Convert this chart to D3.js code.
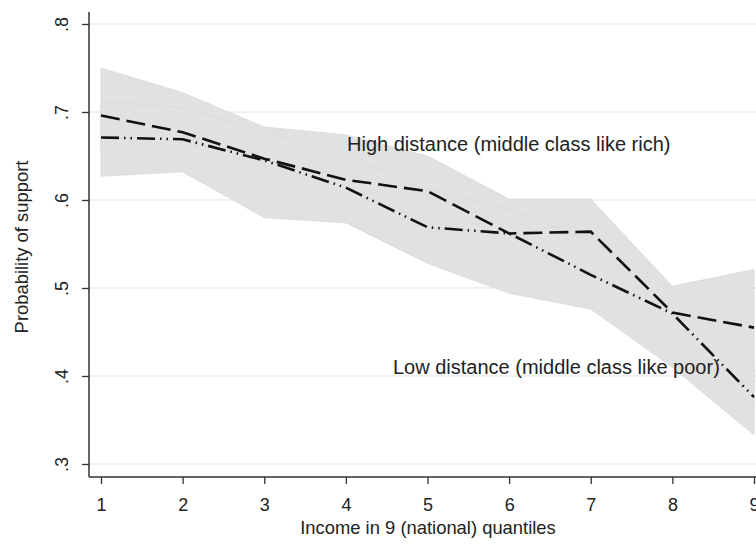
<!DOCTYPE html>
<html>
<head>
<meta charset="utf-8">
<script src="https://cdn.jsdelivr.net/npm/d3@7"></script>
<style>
  body { margin: 0; background: #fff; }
  svg { display: block; font-family: "Liberation Sans", Arial, sans-serif; }
</style>
</head>
<body>
<div id="chart"></div>
<script>
// income quantiles
var quantiles = [1, 2, 3, 4, 5, 6, 7, 8, 9];

// predicted probability of support
var highDistance = [0.696, 0.677, 0.647, 0.623, 0.610, 0.562, 0.564, 0.472, 0.455];
var lowDistance  = [0.671, 0.669, 0.645, 0.614, 0.569, 0.562, 0.515, 0.471, 0.376];

// confidence intervals
var highUpper = [0.750, 0.722, 0.683, 0.674, 0.650, 0.601, 0.601, 0.502, 0.521];
var highLower = [0.651, 0.634, 0.608, 0.585, 0.566, 0.522, 0.525, 0.440, 0.366];
var lowUpper  = [0.712, 0.705, 0.678, 0.650, 0.612, 0.590, 0.553, 0.500, 0.415];
var lowLower  = [0.627, 0.632, 0.580, 0.574, 0.528, 0.494, 0.476, 0.410, 0.333];

var yTicks = [0.3, 0.4, 0.5, 0.6, 0.7, 0.8];
var yTickLabels = [".3", ".4", ".5", ".6", ".7", ".8"];

var svgWidth = 756, svgHeight = 544;

var svg = d3.select("#chart")
    .append("svg")
    .attr("width", svgWidth)
    .attr("height", svgHeight);

var frame = {left: 89, top: 12, bottom: 477};

var x = d3.scaleLinear()
    .domain([1, 9])
    .range([101, 754]);

var y = d3.scaleLinear()
    .domain([0.3, 0.8])
    .range([464, 24]);

// gridlines
svg.append("g")
    .selectAll("line")
    .data(yTicks)
    .enter().append("line")
    .attr("x1", frame.left)
    .attr("x2", svgWidth)
    .attr("y1", function(d) { return y(d); })
    .attr("y2", function(d) { return y(d); })
    .attr("stroke", "#ebebeb")
    .attr("stroke-width", 1.5);

// CI bands
function band(upper, lower) {
    return d3.area()
        .x(function(d, i) { return x(quantiles[i]); })
        .y0(function(d, i) { return y(lower[i]); })
        .y1(function(d, i) { return y(upper[i]); })(quantiles);
}

var bands = svg.append("g");
bands.append("path")
    .attr("d", band(highUpper, highLower))
    .attr("fill", "#e1e1e1")
    .attr("stroke", "#d8d8d8")
    .attr("stroke-width", 0.8);
bands.append("path")
    .attr("d", band(lowUpper, lowLower))
    .attr("fill", "#e1e1e1")
    .attr("stroke", "#d8d8d8")
    .attr("stroke-width", 0.8);

// lines
var line = d3.line()
    .x(function(d, i) { return x(quantiles[i]); })
    .y(function(d) { return y(d); });

svg.append("path")
    .attr("d", line(highDistance))
    .attr("fill", "none")
    .attr("stroke", "#111")
    .attr("stroke-width", 2.6)
    .attr("stroke-dasharray", "19,7");

svg.append("path")
    .attr("d", line(lowDistance))
    .attr("fill", "none")
    .attr("stroke", "#111")
    .attr("stroke-width", 2.6)
    .attr("stroke-dasharray", "18,5,1.5,5,1.5,5");

// Y axis
var yAxis = svg.append("g")
    .attr("transform", "translate(" + frame.left + ",0)")
    .call(d3.axisLeft(y).tickValues(yTicks).tickSize(7)
        .tickFormat(function(d, i) { return yTickLabels[i]; }));
yAxis.select(".domain").remove();
yAxis.selectAll(".tick line").attr("stroke", "#333").attr("stroke-width", 1.3);
yAxis.selectAll(".tick text")
    .attr("transform", "rotate(-90)")
    .attr("x", 0)
    .attr("y", -21)
    .attr("dy", 0)
    .attr("text-anchor", "middle")
    .attr("font-size", 18)
    .attr("fill", "#222");

// X axis
var xAxis = svg.append("g")
    .attr("transform", "translate(0," + frame.bottom + ")")
    .call(d3.axisBottom(x).tickValues(quantiles).tickSize(7).tickFormat(d3.format("d")));
xAxis.select(".domain").remove();
xAxis.selectAll(".tick line").attr("stroke", "#333").attr("stroke-width", 1.3);
xAxis.selectAll(".tick text")
    .attr("y", 21)
    .attr("dy", "0.71em")
    .attr("font-size", 18)
    .attr("fill", "#222");

// frame lines
svg.append("line")
    .attr("x1", frame.left).attr("x2", frame.left)
    .attr("y1", frame.top).attr("y2", frame.bottom)
    .attr("stroke", "#333").attr("stroke-width", 1.5);
svg.append("line")
    .attr("x1", frame.left).attr("x2", svgWidth)
    .attr("y1", frame.bottom).attr("y2", frame.bottom)
    .attr("stroke", "#333").attr("stroke-width", 1.5);

// titles
svg.append("text")
    .attr("x", 428)
    .attr("y", 534)
    .attr("text-anchor", "middle")
    .attr("font-size", 18.4)
    .attr("fill", "#222")
    .text("Income in 9 (national) quantiles");

svg.append("text")
    .attr("transform", "translate(28,247) rotate(-90)")
    .attr("text-anchor", "middle")
    .attr("font-size", 18.4)
    .attr("fill", "#222")
    .text("Probability of support");

// series labels
svg.append("text")
    .attr("x", 347)
    .attr("y", 151)
    .attr("font-size", 20)
    .attr("fill", "#222")
    .text("High distance (middle class like rich)");

svg.append("text")
    .attr("x", 393)
    .attr("y", 374)
    .attr("font-size", 20)
    .attr("fill", "#222")
    .text("Low distance (middle class like poor)");
</script>
</body>
</html>
